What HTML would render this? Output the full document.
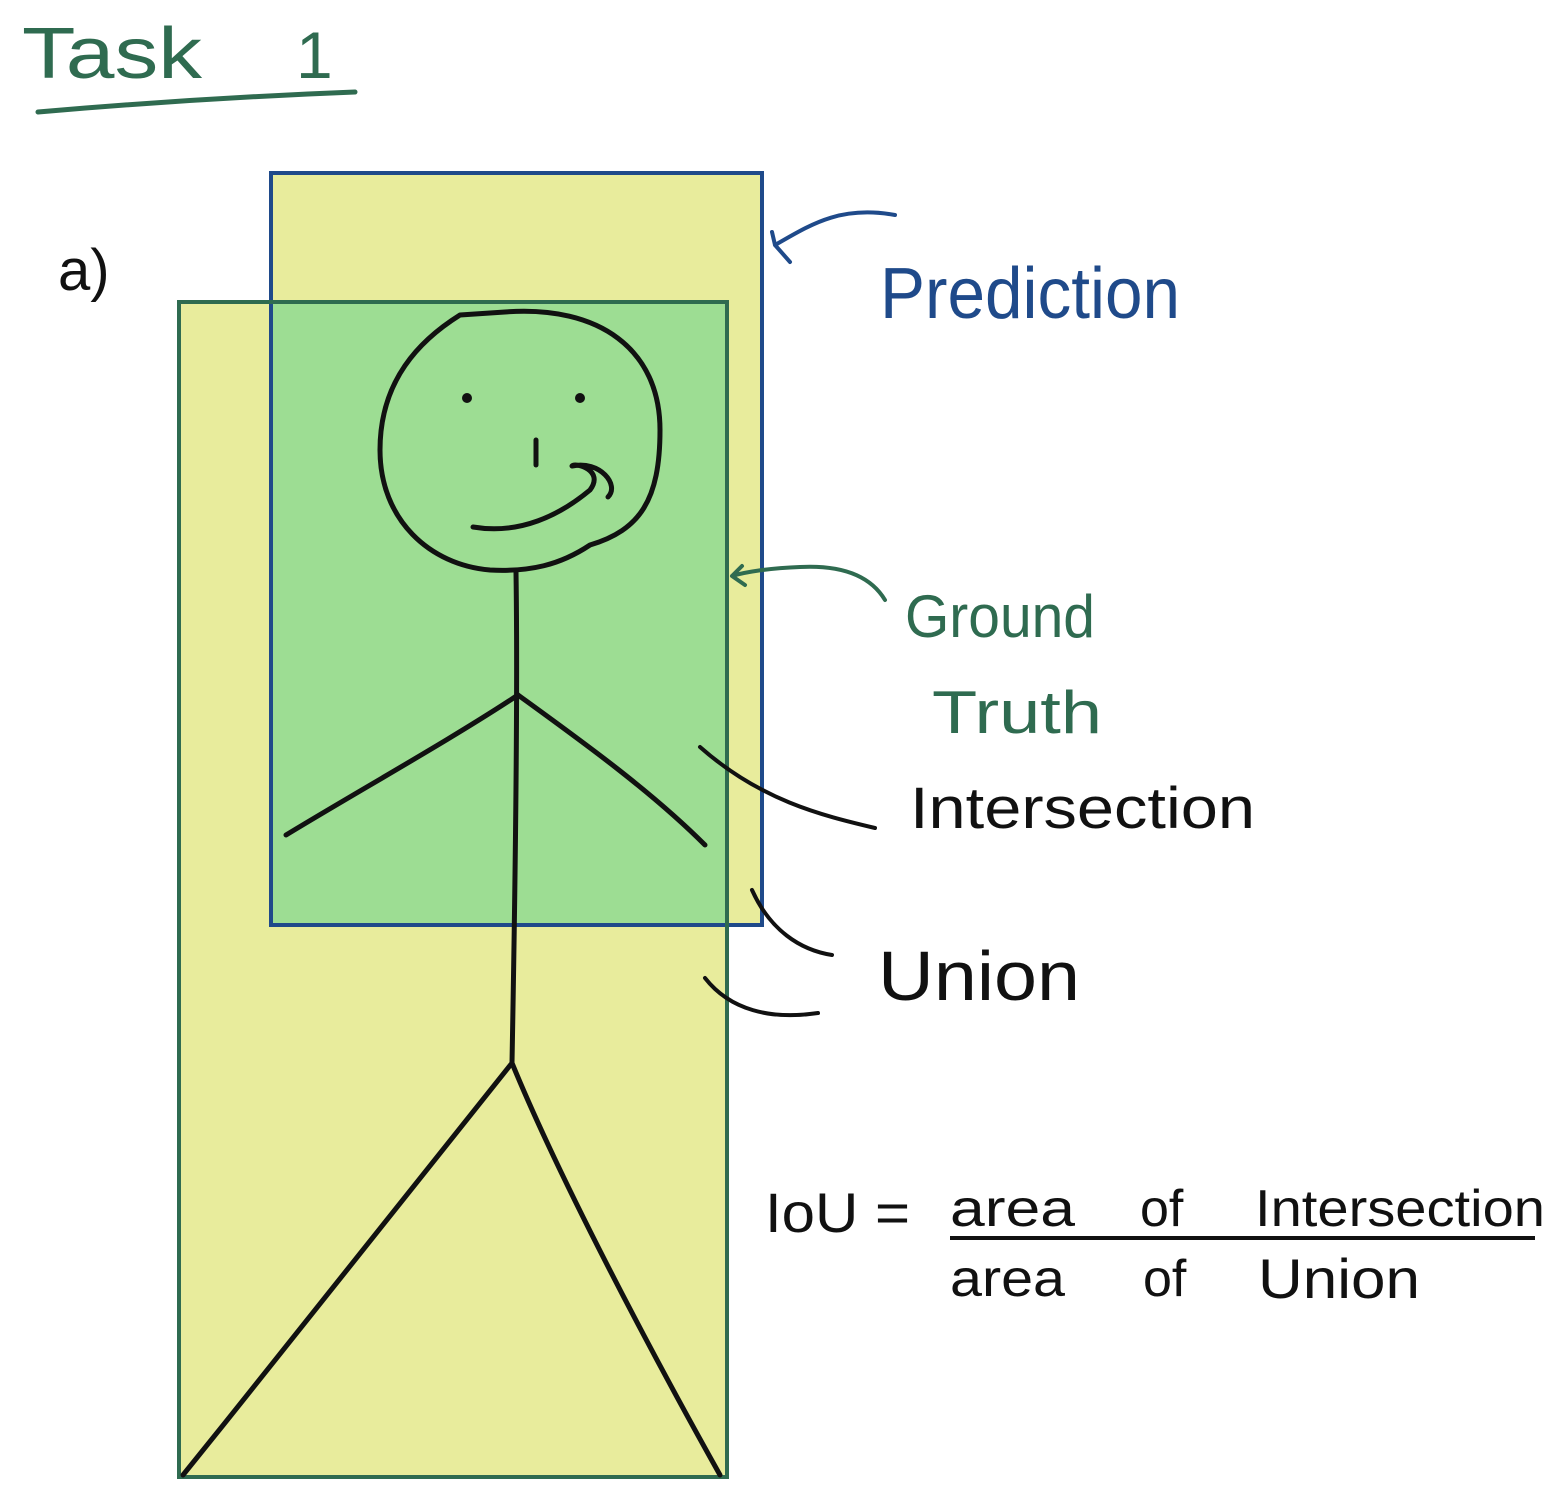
<!DOCTYPE html>
<html><head><meta charset="utf-8"><style>
html,body{margin:0;padding:0;background:#fff;}
svg{display:block;}
text{font-family:"Liberation Sans",sans-serif;}
</style></head><body>
<svg width="1562" height="1490" viewBox="0 0 1562 1490" xmlns="http://www.w3.org/2000/svg">
<text x="22" y="78" font-size="72" fill="#2f6b50" textLength="180" lengthAdjust="spacingAndGlyphs">Task</text>
<text x="296" y="78" font-size="66" fill="#2f6b50">1</text>
<path d="M38 112 Q200 98 355 92" stroke="#2f6b50" stroke-width="5" fill="none" stroke-linecap="round"/>
<text x="58" y="290" font-size="58" fill="#111">a)</text>

<rect x="271" y="173" width="491" height="752" fill="#e8ec9c"/>
<rect x="179" y="302" width="548" height="1175" fill="#e8ec9c"/>
<rect x="271" y="302" width="456" height="623" fill="#9ddd93"/>
<rect x="271" y="173" width="491" height="752" fill="none" stroke="#1f4a8a" stroke-width="4"/>
<rect x="179" y="302" width="548" height="1175" fill="none" stroke="#2f6b50" stroke-width="4"/>

<g stroke="#111" stroke-width="5" fill="none" stroke-linecap="round" stroke-linejoin="round">
<path d="M505 312 C 600 305 660 350 660 430 C 660 500 640 530 590 545 C 560 565 530 572 490 570 C 430 565 380 520 380 450 C 380 380 420 340 460 315 Z"/>
<path d="M536 440 L536 465"/>
<path d="M473 527 C 520 535 560 515 590 490 C 605 470 575 462 572 466 C 600 460 620 485 608 497"/>
<path d="M516 572 C 518 700 515 900 512 1063"/>
<path d="M518 695 C 450 740 360 790 286 835"/>
<path d="M518 695 C 580 740 650 790 705 845"/>
<path d="M512 1063 C 420 1180 300 1330 183 1475"/>
<path d="M512 1063 C 560 1180 650 1350 720 1475"/>
</g>
<circle cx="467" cy="398" r="5" fill="#111"/>
<circle cx="580" cy="398" r="5" fill="#111"/>

<path d="M895 215 C 840 205 810 225 775 245 M775 245 L772 232 M775 245 L790 262" stroke="#1f4a8a" stroke-width="4" fill="none" stroke-linecap="round"/>
<text x="880" y="318" font-size="72" fill="#1f4a8a" textLength="300" lengthAdjust="spacingAndGlyphs">Prediction</text>

<path d="M885 600 C 870 575 840 565 800 567 C 770 568 745 572 732 576 M732 576 L742 566 M732 576 L745 585" stroke="#2f6b50" stroke-width="4" fill="none" stroke-linecap="round"/>
<text x="905" y="637" font-size="60" fill="#2f6b50" textLength="190" lengthAdjust="spacingAndGlyphs">Ground</text>
<text x="932" y="733" font-size="60" fill="#2f6b50" textLength="170" lengthAdjust="spacingAndGlyphs">Truth</text>

<path d="M700 747 C 760 800 820 815 875 828" stroke="#111" stroke-width="4" fill="none" stroke-linecap="round"/>
<text x="910" y="828" font-size="58" fill="#111" textLength="345" lengthAdjust="spacingAndGlyphs">Intersection</text>

<path d="M752 890 C 770 930 800 950 832 955" stroke="#111" stroke-width="4" fill="none" stroke-linecap="round"/>
<path d="M705 978 C 730 1010 770 1020 818 1013" stroke="#111" stroke-width="4" fill="none" stroke-linecap="round"/>
<text x="878" y="1000" font-size="70" fill="#111" textLength="202" lengthAdjust="spacingAndGlyphs">Union</text>

<text x="765" y="1232" font-size="56" fill="#111" textLength="145" lengthAdjust="spacingAndGlyphs">IoU =</text>
<text x="950" y="1226" font-size="52" fill="#111" textLength="125" lengthAdjust="spacingAndGlyphs">area</text>
<text x="1140" y="1226" font-size="52" fill="#111">of</text>
<text x="1255" y="1226" font-size="52" fill="#111" textLength="290" lengthAdjust="spacingAndGlyphs">Intersection</text>
<path d="M950 1238 L1535 1238" stroke="#111" stroke-width="4"/>
<text x="950" y="1296" font-size="52" fill="#111" textLength="115" lengthAdjust="spacingAndGlyphs">area</text>
<text x="1143" y="1296" font-size="52" fill="#111">of</text>
<text x="1258" y="1298" font-size="56" fill="#111" textLength="162" lengthAdjust="spacingAndGlyphs">Union</text>
</svg>
</body></html>
